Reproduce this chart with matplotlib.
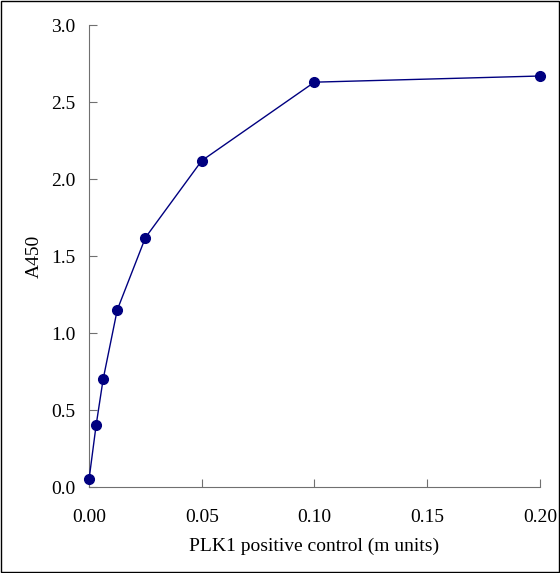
import matplotlib
matplotlib.use("Agg")
import matplotlib.pyplot as plt
from matplotlib.patches import Rectangle

plt.rcParams['font.family'] = ['Liberation Serif', 'DejaVu Serif']

conc = [0.0, 0.003125, 0.00625, 0.0125, 0.025, 0.05, 0.1, 0.2]
a450 = [0.05, 0.40, 0.70, 1.15, 1.62, 2.12, 2.63, 2.67]
xticks = [0.0, 0.05, 0.10, 0.15, 0.20]
yticks = [0.0, 0.5, 1.0, 1.5, 2.0, 2.5, 3.0]

fig = plt.figure(figsize=(5.6, 5.73), dpi=100)
ax = fig.add_axes([0.159, 0.150, 0.805, 0.806])
ax.plot(conc, a450, color='#000080', marker='o', markersize=7, linewidth=1, clip_on=False, zorder=3)
ax.set_xlim(0, 0.2)
ax.set_ylim(0, 3)
ax.set_xticks(xticks)
ax.set_xticklabels(['%.2f' % v for v in xticks])
ax.set_yticks(yticks)
ax.set_yticklabels(['%.1f' % v for v in yticks])
ax.spines['top'].set_visible(False)
ax.spines['right'].set_visible(False)
for s in ['left', 'bottom']:
    ax.spines[s].set_color('#707070')
ax.tick_params(labelsize=14, direction='in', length=6, color='#707070')
ax.tick_params(axis='x', pad=16)
ax.tick_params(axis='y', pad=10)
ax.set_xlabel('PLK1 positive control (m units)', fontsize=14, labelpad=8)
ax.set_ylabel('A450', fontsize=14, labelpad=6)
fig.patches.append(Rectangle((0.002, 0.002), 0.996, 0.996, transform=fig.transFigure,
                             fill=False, edgecolor='black', linewidth=1))
fig.savefig('out.png', dpi=100)
